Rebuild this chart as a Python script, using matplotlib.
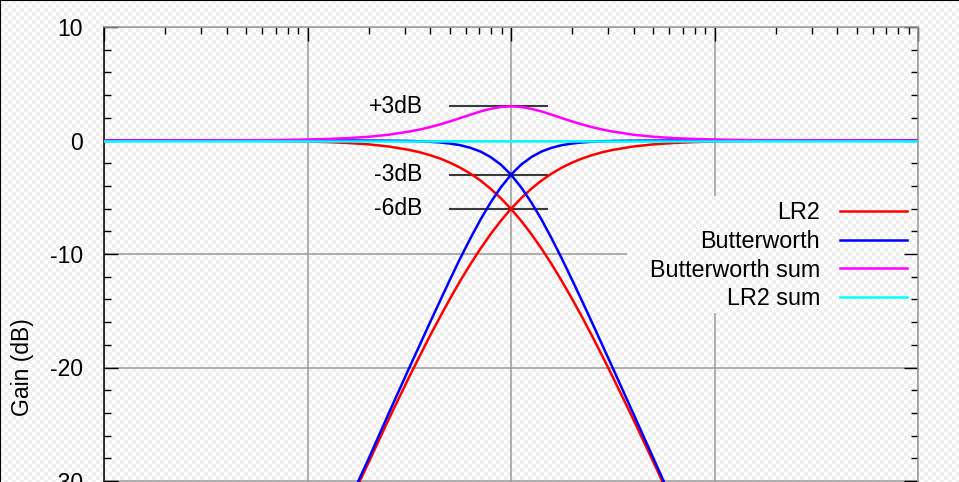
import numpy as np
import matplotlib
matplotlib.use('Agg')
import matplotlib.pyplot as plt
from matplotlib.ticker import LogLocator, MultipleLocator, NullFormatter
from matplotlib.lines import Line2D
from matplotlib.path import Path
from matplotlib.transforms import IdentityTransform

plt.rcParams['font.family'] = ['Liberation Sans', 'DejaVu Sans']
plt.rcParams['axes.unicode_minus'] = False

# Normalised frequency (crossover at 1) and gain in dB
freq_low = [0.01, 0.0316, 0.0631, 0.1, 0.126, 0.158, 0.2, 0.251, 0.316, 0.355,
            0.398, 0.447, 0.501, 0.562, 0.631, 0.708, 0.794, 0.891, 1.0, 1.122,
            1.259, 1.413, 1.585, 1.778, 1.995, 2.239, 2.512, 2.818, 3.162, 3.981,
            5.012, 6.31, 7.943, 10.0]
lr2_low = [0.00, -0.01, -0.03, -0.09, -0.14, -0.22, -0.34, -0.53, -0.83, -1.03,
           -1.28, -1.58, -1.95, -2.39, -2.91, -3.53, -4.25, -5.08, -6.02, -7.08,
           -8.25, -9.53, -10.91, -12.39, -13.95, -15.58, -17.28, -19.03, -20.83, -24.53,
           -28.34, -32.22, -36.14, -40.09]
bw_low = [0.00, 0.00, 0.00, 0.00, 0.00, 0.00, -0.01, -0.02, -0.04, -0.07,
          -0.11, -0.17, -0.27, -0.41, -0.64, -0.97, -1.46, -2.12, -3.01, -4.13,
          -5.46, -6.97, -8.64, -10.41, -12.27, -14.17, -16.11, -18.07, -20.04, -24.02,
          -28.01, -32.00, -36.00, -40.00]

freq_high = [0.1, 0.126, 0.158, 0.2, 0.251, 0.316, 0.355, 0.398, 0.447, 0.501,
             0.562, 0.631, 0.708, 0.794, 0.891, 1.0, 1.122, 1.259, 1.413, 1.585,
             1.778, 1.995, 2.239, 2.512, 2.818, 3.162, 3.981, 5.012, 6.31, 7.943,
             10.0, 15.85, 31.62, 100.0]
lr2_high = [-40.09, -36.14, -32.22, -28.34, -24.53, -20.83, -19.03, -17.28, -15.58, -13.95,
            -12.39, -10.91, -9.53, -8.25, -7.08, -6.02, -5.08, -4.25, -3.53, -2.91,
            -2.39, -1.95, -1.58, -1.28, -1.03, -0.83, -0.53, -0.34, -0.22, -0.14,
            -0.09, -0.03, -0.01, 0.00]
bw_high = [-40.00, -36.00, -32.00, -28.01, -24.02, -20.04, -18.07, -16.11, -14.17, -12.27,
           -10.41, -8.64, -6.97, -5.46, -4.13, -3.01, -2.12, -1.46, -0.97, -0.64,
           -0.41, -0.27, -0.17, -0.11, -0.07, -0.04, -0.02, -0.01, 0.00, 0.00,
           0.00, 0.00, 0.00, 0.00]

freq_sum = [0.01, 0.0316, 0.0631, 0.1, 0.126, 0.158, 0.2, 0.251, 0.316, 0.355,
            0.398, 0.447, 0.501, 0.562, 0.631, 0.708, 0.794, 0.891, 1.0, 1.122,
            1.259, 1.413, 1.585, 1.778, 1.995, 2.239, 2.512, 2.818, 3.162, 3.981,
            5.012, 6.31, 7.943, 10.0, 15.85, 31.62, 100.0]
bw_sum = [0.00, 0.01, 0.03, 0.09, 0.14, 0.21, 0.33, 0.51, 0.79, 0.96,
          1.17, 1.41, 1.68, 1.97, 2.27, 2.56, 2.79, 2.95, 3.01, 2.95,
          2.79, 2.56, 2.27, 1.97, 1.68, 1.41, 1.17, 0.96, 0.79, 0.51,
          0.33, 0.21, 0.14, 0.09, 0.03, 0.01, 0.00]

freq_lr2_sum = [0.01, 100.0]
lr2_sum = [0.0, 0.0]

# reference levels marked on the plot
ref_levels = [3, -3, -6]
ref_labels = ['+3dB', '-3dB', '-6dB']
ref_span = [0.5, 1.5]

W, H = 959, 482
fig = plt.figure(figsize=(W / 100, H / 100), dpi=100)

# light checkered background
yy, xx = np.mgrid[0:H, 0:W]
chk = np.where(((yy // 4) + (xx // 4)) % 2 == 0, 1.0, 0.94)
fig.figimage(np.dstack([chk, chk, chk]), xo=0, yo=0, zorder=-10)
fig.patch.set_alpha(0)

# axes: top at y=27px, bottom (-50 dB) lies below the picture
top_px, bot_px = 27, 708
ax = fig.add_axes([104 / W, (H - bot_px) / H, 814 / W, (bot_px - top_px) / H])
ax.set_facecolor('none')
ax.set_xscale('log')
ax.set_xlim(0.01, 100)
ax.set_ylim(-50, 10)

ax.grid(True, which='major', color='#9a9a9a', lw=1.1, zorder=0)
ax.set_axisbelow(True)

for lvl, lab in zip(ref_levels, ref_labels):
    ax.plot(ref_span, [lvl, lvl], color='#3a3a3a', lw=1.5, zorder=2)
    ax.annotate(lab, xy=(ref_span[0], lvl), xytext=(-19.5, 0), textcoords='offset points',
                ha='right', va='center', fontsize=16.5)

lw = 1.8
ax.plot(freq_low, lr2_low, color='#ff0000', lw=lw, label='LR2', zorder=3)
ax.plot(freq_high, lr2_high, color='#ff0000', lw=lw, zorder=3)
ax.plot(freq_low, bw_low, color='#0000ff', lw=lw, label='Butterworth', zorder=3)
ax.plot(freq_high, bw_high, color='#0000ff', lw=lw, zorder=3)
ax.plot(freq_sum, bw_sum, color='#ff00ff', lw=lw, label='Butterworth sum', zorder=3)
ax.plot(freq_lr2_sum, lr2_sum, color='#00ffff', lw=lw, label='LR2 sum', zorder=4)

ax.xaxis.set_major_locator(LogLocator(base=10, numticks=10))
ax.xaxis.set_minor_locator(LogLocator(base=10, subs=np.arange(2, 10), numticks=20))
ax.xaxis.set_minor_formatter(NullFormatter())
ax.yaxis.set_major_locator(MultipleLocator(10))
ax.yaxis.set_minor_locator(MultipleLocator(2))
ax.tick_params(which='both', direction='in', top=True, right=True, bottom=True,
               color='black', width=1.0, labelsize=16.5, pad=15)
ax.tick_params(which='major', length=10)
ax.tick_params(which='minor', length=5)
# the frequency labels sit below the visible part of the picture
ax.tick_params(axis='x', labelbottom=False)

ax.spines['left'].set_color('black')
for s in ['top', 'right', 'bottom']:
    ax.spines[s].set_color('#999999')
for s in ax.spines.values():
    s.set_linewidth(1.1)

ax.set_ylabel('Gain (dB)', fontsize=16.5)
ax.yaxis.set_label_coords(-0.086, 0.5)

leg = ax.legend(loc='upper right', bbox_to_anchor=(918 / W, 1 - 190 / H),
                bbox_transform=fig.transFigure, markerfirst=False, fontsize=16.8,
                handlelength=2.87, handletextpad=0.86, labelspacing=0.25,
                borderpad=0.47, borderaxespad=0, frameon=False)

# the key hides the grid behind it: cut a hole in the grid clip path
fig.canvas.draw()
x0, x1 = 627, 918
y0, y1 = H - 313, H - 196
abb = ax.bbox
verts = [(abb.x0, abb.y0), (abb.x1, abb.y0), (abb.x1, abb.y1), (abb.x0, abb.y1), (0, 0),
         (x0, y0), (x0, y1), (x1, y1), (x1, y0), (0, 0)]
codes = [Path.MOVETO, Path.LINETO, Path.LINETO, Path.LINETO, Path.CLOSEPOLY] * 2
hole = Path(verts, codes)
for gl in ax.get_xgridlines() + ax.get_ygridlines():
    gl.set_clip_path(hole, IdentityTransform())

# black frame of the picture (top and left edge)
fig.add_artist(Line2D([0, 1], [1, 1], transform=fig.transFigure, color='black', lw=1.5))
fig.add_artist(Line2D([0, 0], [0, 1], transform=fig.transFigure, color='black', lw=1.5))

fig.savefig('out.png', dpi=100)
